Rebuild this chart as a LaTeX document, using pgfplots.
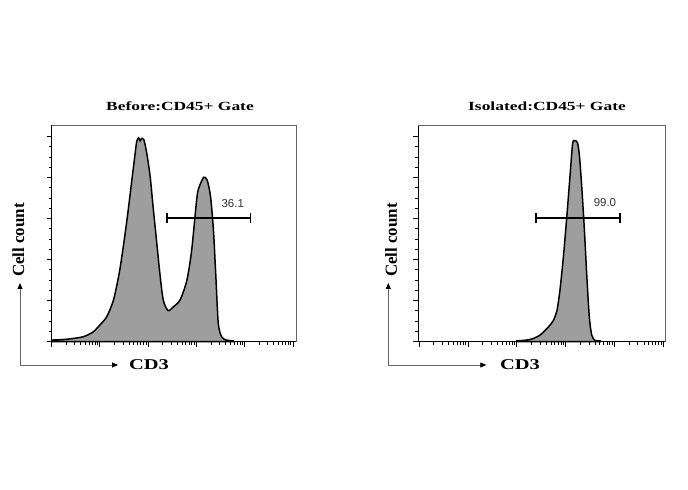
\documentclass[border=0pt]{standalone}
\usepackage{fontspec}
\setmainfont{Liberation Serif}
\newfontfamily\arial{Liberation Sans}
\usepackage{graphicx}
\usepackage{pgfplots}
\pgfplotsset{compat=1.18}
\usetikzlibrary{arrows.meta}

\definecolor{histfill}{RGB}{158,158,158}
\definecolor{framegray}{RGB}{100,100,100}
\definecolor{gatetext}{RGB}{50,50,50}

% CD3 in decades (log10), cell count in tick units
\pgfplotstableread{
x y
0.00 0.04
0.31 0.06
0.65 0.12
0.86 0.24
1.00 0.41
1.14 0.61
1.28 1.02
1.41 1.75
1.55 2.89
1.66 3.94
1.72 4.51
1.76 4.88
1.80 4.97
1.83 4.90
1.86 4.96
1.91 4.92
1.97 4.59
2.04 4.02
2.10 3.29
2.17 2.48
2.24 1.67
2.31 1.02
2.41 0.76
2.52 0.85
2.66 1.02
2.80 1.50
2.90 2.24
3.01 3.54
3.07 3.82
3.15 4.01
3.22 3.94
3.29 3.54
3.35 2.72
3.40 1.59
3.45 0.45
3.52 0.12
3.62 0.04
3.76 0.02
}\before

\pgfplotstableread{
x y
2.00 0.02
2.20 0.04
2.34 0.08
2.47 0.16
2.58 0.28
2.68 0.41
2.75 0.53
2.82 0.77
2.88 1.26
2.95 2.07
3.02 3.05
3.09 4.11
3.14 4.84
3.19 4.90
3.24 4.85
3.28 4.51
3.33 3.70
3.38 2.72
3.43 1.59
3.48 0.61
3.53 0.16
3.60 0.03
3.70 0.02
}\isolated

\pgfplotsset{
  flowaxis/.style={
    scale only axis, anchor=south west,
    height=216.7bp,
    ymin=0, ymax=5.285,
    axis x line*=bottom, axis y line*=left,
    axis line style={black, line width=1.4pt},
    tick align=outside,
    major tick length=5bp, minor tick length=3bp,
    every tick/.style={black, line width=1pt},
    xtick={0,...,5},
    minor xtick={0.301,0.477,0.602,0.699,0.778,0.845,0.903,0.954,
      1.301,1.477,1.602,1.699,1.778,1.845,1.903,1.954,
      2.301,2.477,2.602,2.699,2.778,2.845,2.903,2.954,
      3.301,3.477,3.602,3.699,3.778,3.845,3.903,3.954,
      4.301,4.477,4.602,4.699,4.778,4.845,4.903,4.954},
    ytick={0,...,5}, minor y tick num=3,
    xticklabels={}, yticklabels={},
    clip=false,
  },
  hist/.style={fill=histfill, draw=black, line width=1.5pt, smooth, tension=0.45},
  gate/.style={black, line width=1.4pt, mark=|, mark size=5bp,
    mark options={line width=1.4pt}},
}

\begin{document}
\begin{tikzpicture}
\path (0,0) rectangle (688bp,490bp);

% left panel
\begin{axis}[flowaxis, at={(51.7bp,148.3bp)}, width=244.3bp, xmin=0, xmax=5.06]
\addplot[hist] table {\before} \closedcycle;
\addplot[gate] coordinates {(2.39,3.02) (4.12,3.02)};
\node[font=\arial\fontsize{11.5}{13}\selectfont, text=gatetext] at (axis cs:3.75,3.38) {36.1};
\draw[framegray, line width=1pt] (rel axis cs:0,1) -- (rel axis cs:1,1) -- (rel axis cs:1,0);
\end{axis}

% right panel
\begin{axis}[flowaxis, at={(418.3bp,148.3bp)}, width=246.7bp, xmin=-0.02, xmax=5.03]
\addplot[hist] table {\isolated} \closedcycle;
\addplot[gate] coordinates {(2.39,3.02) (4.11,3.02)};
\node[font=\arial\fontsize{11.5}{13}\selectfont, text=gatetext] at (axis cs:3.80,3.39) {99.0};
\draw[framegray, line width=1pt] (rel axis cs:0,1) -- (rel axis cs:1,1) -- (rel axis cs:1,0);
\end{axis}

% titles
\node[font=\bfseries\fontsize{12.5}{14}\selectfont] at (180bp,384bp) {\scalebox{1.4}[1]{Before:CD45+ Gate}};
\node[font=\bfseries\fontsize{12.5}{14}\selectfont] at (547bp,384bp) {\scalebox{1.4}[1]{Isolated:CD45+ Gate}};

% axis names with arrows
\foreach \cx/\lx/\tx in {20/18.3/149, 388.3/391/520} {
  \draw[framegray, line width=0.8pt, -{Triangle[length=6bp,width=5bp,color=black]}]
    (\cx bp,125bp) -- (\cx bp,207bp);
  \draw[framegray, line width=0.8pt, -{Triangle[length=6bp,width=5bp,color=black]}]
    (\cx bp,125bp) -- (\cx bp+98bp,125bp);
  \node[font=\bfseries\fontsize{17}{19}\selectfont, rotate=90] at (\lx bp,250bp) {Cell count};
  \node[font=\bfseries\fontsize{15}{17}\selectfont] at (\tx bp,125bp) {\scalebox{1.37}[1]{CD3}};
}
\end{tikzpicture}
\end{document}
